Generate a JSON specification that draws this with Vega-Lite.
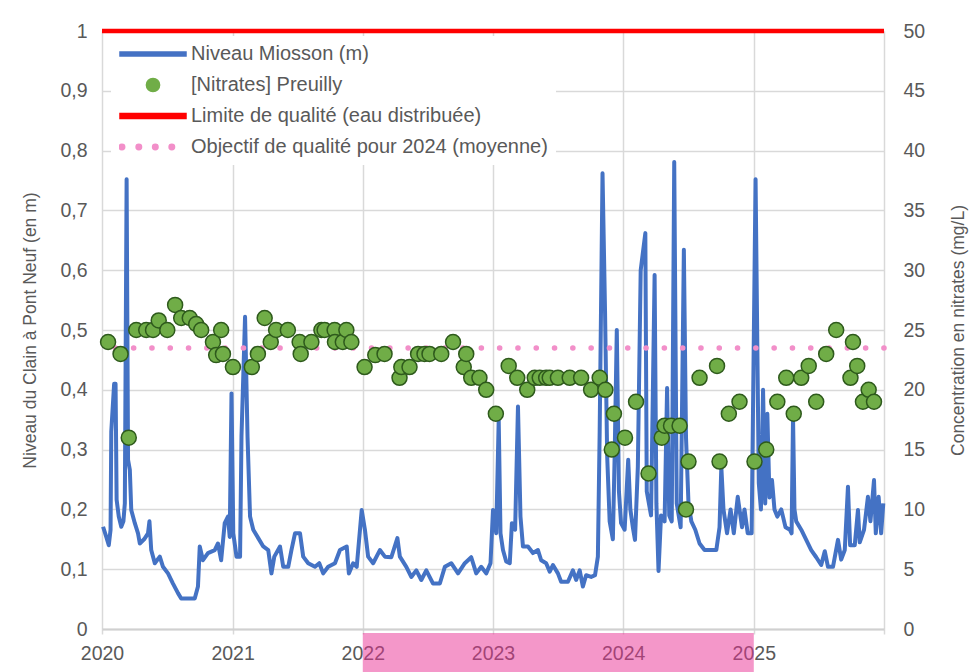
{
  "$schema": "https://vega.github.io/schema/vega-lite/v6.json",
  "width": 782,
  "height": 598,
  "autosize": {"type": "none"},
  "padding": {"left": 102, "top": 31, "right": 90, "bottom": 43},
  "background": "white",
  "config": {
    "view": {"stroke": null},
    "font": "Liberation Sans",
    "axis": {
      "labelColor": "#595959", "titleColor": "#595959",
      "labelFont": "Liberation Sans", "titleFont": "Liberation Sans",
      "labelFontSize": 19.5, "titleFontSize": 17.5, "titleFontWeight": "normal",
      "gridColor": "#D9D9D9", "gridWidth": 1.5, "gridOpacity": 1,
      "domain": false, "ticks": false
    }
  },
  "datasets": {
    "periode": [{"debut": "2022-01-01", "fin": "2025-01-01"}],
    "limite": [{"valeur": 50}],
    "objectif": [{"valeur": 23.5}],
    "niveau": [
      {"date": "2020-01-04", "niveau": 0.171}, {"date": "2020-01-13", "niveau": 0.154}, {"date": "2020-01-20", "niveau": 0.14}, {"date": "2020-01-25", "niveau": 0.166},
      {"date": "2020-01-27", "niveau": 0.33}, {"date": "2020-02-04", "niveau": 0.41}, {"date": "2020-02-08", "niveau": 0.41}, {"date": "2020-02-11", "niveau": 0.216},
      {"date": "2020-02-17", "niveau": 0.188}, {"date": "2020-02-24", "niveau": 0.171}, {"date": "2020-03-01", "niveau": 0.18}, {"date": "2020-03-05", "niveau": 0.21},
      {"date": "2020-03-10", "niveau": 0.752}, {"date": "2020-03-14", "niveau": 0.283}, {"date": "2020-03-19", "niveau": 0.266}, {"date": "2020-03-23", "niveau": 0.199},
      {"date": "2020-04-02", "niveau": 0.177}, {"date": "2020-04-11", "niveau": 0.16}, {"date": "2020-04-16", "niveau": 0.143}, {"date": "2020-04-28", "niveau": 0.15},
      {"date": "2020-05-09", "niveau": 0.16}, {"date": "2020-05-13", "niveau": 0.18}, {"date": "2020-05-18", "niveau": 0.132}, {"date": "2020-05-28", "niveau": 0.11},
      {"date": "2020-06-11", "niveau": 0.121}, {"date": "2020-06-20", "niveau": 0.104}, {"date": "2020-07-04", "niveau": 0.093}, {"date": "2020-07-18", "niveau": 0.076},
      {"date": "2020-08-01", "niveau": 0.06}, {"date": "2020-08-10", "niveau": 0.051}, {"date": "2020-09-17", "niveau": 0.051}, {"date": "2020-09-26", "niveau": 0.071},
      {"date": "2020-10-01", "niveau": 0.138}, {"date": "2020-10-10", "niveau": 0.115}, {"date": "2020-10-24", "niveau": 0.127}, {"date": "2020-11-12", "niveau": 0.132},
      {"date": "2020-11-21", "niveau": 0.143}, {"date": "2020-11-30", "niveau": 0.115}, {"date": "2020-12-10", "niveau": 0.177}, {"date": "2020-12-19", "niveau": 0.188},
      {"date": "2020-12-24", "niveau": 0.154}, {"date": "2020-12-29", "niveau": 0.394}, {"date": "2021-01-03", "niveau": 0.16}, {"date": "2021-01-12", "niveau": 0.121},
      {"date": "2021-01-22", "niveau": 0.121}, {"date": "2021-01-26", "niveau": 0.322}, {"date": "2021-02-05", "niveau": 0.522}, {"date": "2021-02-12", "niveau": 0.32},
      {"date": "2021-02-19", "niveau": 0.188}, {"date": "2021-02-28", "niveau": 0.166}, {"date": "2021-03-14", "niveau": 0.152}, {"date": "2021-03-28", "niveau": 0.138},
      {"date": "2021-04-11", "niveau": 0.132}, {"date": "2021-04-20", "niveau": 0.093}, {"date": "2021-04-28", "niveau": 0.121}, {"date": "2021-05-14", "niveau": 0.138},
      {"date": "2021-05-23", "niveau": 0.104}, {"date": "2021-06-06", "niveau": 0.104}, {"date": "2021-06-15", "niveau": 0.132}, {"date": "2021-06-25", "niveau": 0.16},
      {"date": "2021-07-09", "niveau": 0.16}, {"date": "2021-07-18", "niveau": 0.121}, {"date": "2021-08-01", "niveau": 0.11}, {"date": "2021-08-20", "niveau": 0.104},
      {"date": "2021-09-01", "niveau": 0.11}, {"date": "2021-09-12", "niveau": 0.093}, {"date": "2021-09-26", "niveau": 0.104}, {"date": "2021-10-15", "niveau": 0.11},
      {"date": "2021-10-29", "niveau": 0.132}, {"date": "2021-11-17", "niveau": 0.138}, {"date": "2021-11-23", "niveau": 0.093}, {"date": "2021-12-05", "niveau": 0.11},
      {"date": "2021-12-15", "niveau": 0.104}, {"date": "2021-12-29", "niveau": 0.199}, {"date": "2022-01-07", "niveau": 0.166}, {"date": "2022-01-16", "niveau": 0.121},
      {"date": "2022-01-30", "niveau": 0.11}, {"date": "2022-02-18", "niveau": 0.132}, {"date": "2022-03-04", "niveau": 0.121}, {"date": "2022-03-22", "niveau": 0.12},
      {"date": "2022-04-08", "niveau": 0.152}, {"date": "2022-04-15", "niveau": 0.121}, {"date": "2022-05-03", "niveau": 0.104}, {"date": "2022-05-17", "niveau": 0.087},
      {"date": "2022-05-31", "niveau": 0.098}, {"date": "2022-06-14", "niveau": 0.082}, {"date": "2022-06-28", "niveau": 0.098}, {"date": "2022-07-17", "niveau": 0.076},
      {"date": "2022-08-05", "niveau": 0.076}, {"date": "2022-08-19", "niveau": 0.104}, {"date": "2022-09-06", "niveau": 0.11}, {"date": "2022-09-25", "niveau": 0.093},
      {"date": "2022-10-14", "niveau": 0.11}, {"date": "2022-11-01", "niveau": 0.12}, {"date": "2022-11-15", "niveau": 0.093}, {"date": "2022-11-29", "niveau": 0.104},
      {"date": "2022-12-13", "niveau": 0.093}, {"date": "2022-12-25", "niveau": 0.11}, {"date": "2023-01-01", "niveau": 0.199}, {"date": "2023-01-10", "niveau": 0.16},
      {"date": "2023-01-17", "niveau": 0.35}, {"date": "2023-01-22", "niveau": 0.16}, {"date": "2023-01-29", "niveau": 0.132}, {"date": "2023-02-07", "niveau": 0.113},
      {"date": "2023-02-17", "niveau": 0.11}, {"date": "2023-02-23", "niveau": 0.177}, {"date": "2023-03-04", "niveau": 0.166}, {"date": "2023-03-12", "niveau": 0.372},
      {"date": "2023-03-19", "niveau": 0.188}, {"date": "2023-03-26", "niveau": 0.138}, {"date": "2023-04-09", "niveau": 0.138}, {"date": "2023-04-23", "niveau": 0.127},
      {"date": "2023-05-07", "niveau": 0.132}, {"date": "2023-05-16", "niveau": 0.115}, {"date": "2023-05-30", "niveau": 0.11}, {"date": "2023-06-09", "niveau": 0.096},
      {"date": "2023-06-18", "niveau": 0.107}, {"date": "2023-07-02", "niveau": 0.093}, {"date": "2023-07-11", "niveau": 0.079}, {"date": "2023-07-30", "niveau": 0.079},
      {"date": "2023-08-13", "niveau": 0.098}, {"date": "2023-08-22", "niveau": 0.082}, {"date": "2023-09-01", "niveau": 0.098}, {"date": "2023-09-10", "niveau": 0.071},
      {"date": "2023-09-19", "niveau": 0.09}, {"date": "2023-10-03", "niveau": 0.087}, {"date": "2023-10-14", "niveau": 0.09}, {"date": "2023-10-22", "niveau": 0.121},
      {"date": "2023-10-27", "niveau": 0.33}, {"date": "2023-11-04", "niveau": 0.762}, {"date": "2023-11-11", "niveau": 0.533}, {"date": "2023-11-17", "niveau": 0.29},
      {"date": "2023-11-24", "niveau": 0.18}, {"date": "2023-12-03", "niveau": 0.15}, {"date": "2023-12-08", "niveau": 0.29}, {"date": "2023-12-14", "niveau": 0.5},
      {"date": "2023-12-20", "niveau": 0.23}, {"date": "2023-12-26", "niveau": 0.177}, {"date": "2024-01-05", "niveau": 0.166}, {"date": "2024-01-15", "niveau": 0.283},
      {"date": "2024-01-21", "niveau": 0.2}, {"date": "2024-01-28", "niveau": 0.17}, {"date": "2024-02-03", "niveau": 0.149}, {"date": "2024-02-11", "niveau": 0.271},
      {"date": "2024-02-19", "niveau": 0.6}, {"date": "2024-03-03", "niveau": 0.662}, {"date": "2024-03-07", "niveau": 0.23}, {"date": "2024-03-19", "niveau": 0.19},
      {"date": "2024-03-29", "niveau": 0.592}, {"date": "2024-04-03", "niveau": 0.21}, {"date": "2024-04-09", "niveau": 0.097}, {"date": "2024-04-16", "niveau": 0.19},
      {"date": "2024-04-26", "niveau": 0.18}, {"date": "2024-05-03", "niveau": 0.403}, {"date": "2024-05-09", "niveau": 0.19}, {"date": "2024-05-16", "niveau": 0.18},
      {"date": "2024-05-23", "niveau": 0.781}, {"date": "2024-05-30", "niveau": 0.21}, {"date": "2024-06-10", "niveau": 0.17}, {"date": "2024-06-19", "niveau": 0.634},
      {"date": "2024-06-25", "niveau": 0.32}, {"date": "2024-07-02", "niveau": 0.21}, {"date": "2024-07-10", "niveau": 0.18}, {"date": "2024-07-21", "niveau": 0.166},
      {"date": "2024-08-02", "niveau": 0.143}, {"date": "2024-08-16", "niveau": 0.132}, {"date": "2024-09-18", "niveau": 0.132}, {"date": "2024-09-27", "niveau": 0.17},
      {"date": "2024-10-02", "niveau": 0.271}, {"date": "2024-10-08", "niveau": 0.2}, {"date": "2024-10-18", "niveau": 0.16}, {"date": "2024-10-28", "niveau": 0.2},
      {"date": "2024-11-06", "niveau": 0.16}, {"date": "2024-11-17", "niveau": 0.221}, {"date": "2024-11-29", "niveau": 0.17}, {"date": "2024-12-06", "niveau": 0.2},
      {"date": "2024-12-15", "niveau": 0.16}, {"date": "2024-12-26", "niveau": 0.16}, {"date": "2025-01-06", "niveau": 0.752}, {"date": "2025-01-15", "niveau": 0.244},
      {"date": "2025-01-21", "niveau": 0.2}, {"date": "2025-01-27", "niveau": 0.4}, {"date": "2025-02-02", "niveau": 0.21}, {"date": "2025-02-08", "niveau": 0.36},
      {"date": "2025-02-14", "niveau": 0.22}, {"date": "2025-02-21", "niveau": 0.249}, {"date": "2025-02-28", "niveau": 0.2}, {"date": "2025-03-08", "niveau": 0.188},
      {"date": "2025-03-19", "niveau": 0.2}, {"date": "2025-03-31", "niveau": 0.17}, {"date": "2025-04-12", "niveau": 0.166}, {"date": "2025-04-17", "niveau": 0.16},
      {"date": "2025-04-21", "niveau": 0.355}, {"date": "2025-04-25", "niveau": 0.2}, {"date": "2025-04-30", "niveau": 0.18}, {"date": "2025-05-14", "niveau": 0.166},
      {"date": "2025-05-28", "niveau": 0.149}, {"date": "2025-06-11", "niveau": 0.132}, {"date": "2025-06-25", "niveau": 0.12}, {"date": "2025-07-09", "niveau": 0.107},
      {"date": "2025-07-19", "niveau": 0.13}, {"date": "2025-07-28", "niveau": 0.104}, {"date": "2025-08-11", "niveau": 0.104}, {"date": "2025-08-25", "niveau": 0.149},
      {"date": "2025-09-03", "niveau": 0.116}, {"date": "2025-09-13", "niveau": 0.132}, {"date": "2025-09-22", "niveau": 0.238}, {"date": "2025-09-28", "niveau": 0.14},
      {"date": "2025-10-11", "niveau": 0.14}, {"date": "2025-10-20", "niveau": 0.199}, {"date": "2025-10-25", "niveau": 0.145}, {"date": "2025-11-06", "niveau": 0.166},
      {"date": "2025-11-17", "niveau": 0.221}, {"date": "2025-11-24", "niveau": 0.18}, {"date": "2025-12-04", "niveau": 0.249}, {"date": "2025-12-09", "niveau": 0.16},
      {"date": "2025-12-17", "niveau": 0.221}, {"date": "2025-12-24", "niveau": 0.16}, {"date": "2025-12-30", "niveau": 0.21}
    ],
    "nitrates": [
      {"date": "2020-01-18", "nitrates": 24}, {"date": "2020-02-22", "nitrates": 23}, {"date": "2020-03-16", "nitrates": 16}, {"date": "2020-04-06", "nitrates": 25},
      {"date": "2020-05-04", "nitrates": 25}, {"date": "2020-05-23", "nitrates": 25}, {"date": "2020-06-08", "nitrates": 25.8}, {"date": "2020-07-02", "nitrates": 25},
      {"date": "2020-07-24", "nitrates": 27.1}, {"date": "2020-08-10", "nitrates": 26}, {"date": "2020-09-03", "nitrates": 26}, {"date": "2020-09-21", "nitrates": 25.5},
      {"date": "2020-10-05", "nitrates": 25}, {"date": "2020-11-07", "nitrates": 24}, {"date": "2020-11-16", "nitrates": 22.9}, {"date": "2020-11-30", "nitrates": 25},
      {"date": "2020-12-05", "nitrates": 23}, {"date": "2021-01-02", "nitrates": 21.9}, {"date": "2021-02-24", "nitrates": 21.9}, {"date": "2021-03-13", "nitrates": 23},
      {"date": "2021-04-01", "nitrates": 26}, {"date": "2021-04-18", "nitrates": 24}, {"date": "2021-05-03", "nitrates": 25}, {"date": "2021-06-05", "nitrates": 25},
      {"date": "2021-07-08", "nitrates": 24}, {"date": "2021-07-11", "nitrates": 23}, {"date": "2021-08-10", "nitrates": 24}, {"date": "2021-09-07", "nitrates": 25},
      {"date": "2021-09-16", "nitrates": 25}, {"date": "2021-10-14", "nitrates": 25}, {"date": "2021-10-15", "nitrates": 24}, {"date": "2021-11-06", "nitrates": 24},
      {"date": "2021-11-16", "nitrates": 25}, {"date": "2021-11-30", "nitrates": 24}, {"date": "2022-01-06", "nitrates": 21.9}, {"date": "2022-02-05", "nitrates": 22.9},
      {"date": "2022-03-03", "nitrates": 23}, {"date": "2022-04-14", "nitrates": 21}, {"date": "2022-04-19", "nitrates": 21.9}, {"date": "2022-05-12", "nitrates": 21.9},
      {"date": "2022-06-05", "nitrates": 23}, {"date": "2022-06-23", "nitrates": 23}, {"date": "2022-07-07", "nitrates": 23}, {"date": "2022-08-09", "nitrates": 23},
      {"date": "2022-09-11", "nitrates": 24}, {"date": "2022-10-11", "nitrates": 21.9}, {"date": "2022-10-18", "nitrates": 23}, {"date": "2022-11-01", "nitrates": 21},
      {"date": "2022-11-24", "nitrates": 21}, {"date": "2022-12-13", "nitrates": 20}, {"date": "2023-01-09", "nitrates": 18}, {"date": "2023-02-14", "nitrates": 22},
      {"date": "2023-03-10", "nitrates": 21}, {"date": "2023-04-07", "nitrates": 20}, {"date": "2023-04-28", "nitrates": 21}, {"date": "2023-05-12", "nitrates": 21},
      {"date": "2023-05-30", "nitrates": 21}, {"date": "2023-06-09", "nitrates": 21}, {"date": "2023-07-02", "nitrates": 21}, {"date": "2023-08-04", "nitrates": 21},
      {"date": "2023-09-05", "nitrates": 21}, {"date": "2023-10-03", "nitrates": 20}, {"date": "2023-10-27", "nitrates": 21}, {"date": "2023-11-12", "nitrates": 20},
      {"date": "2023-11-30", "nitrates": 15}, {"date": "2023-12-06", "nitrates": 18}, {"date": "2024-01-06", "nitrates": 16}, {"date": "2024-02-06", "nitrates": 19},
      {"date": "2024-03-12", "nitrates": 13}, {"date": "2024-04-18", "nitrates": 16}, {"date": "2024-04-26", "nitrates": 17}, {"date": "2024-05-14", "nitrates": 17},
      {"date": "2024-06-07", "nitrates": 17}, {"date": "2024-06-25", "nitrates": 10}, {"date": "2024-07-02", "nitrates": 14}, {"date": "2024-08-02", "nitrates": 21},
      {"date": "2024-09-20", "nitrates": 22}, {"date": "2024-09-27", "nitrates": 14}, {"date": "2024-10-23", "nitrates": 18}, {"date": "2024-11-22", "nitrates": 19},
      {"date": "2025-01-03", "nitrates": 14}, {"date": "2025-02-05", "nitrates": 15}, {"date": "2025-03-08", "nitrates": 19}, {"date": "2025-04-02", "nitrates": 21},
      {"date": "2025-04-23", "nitrates": 18}, {"date": "2025-05-14", "nitrates": 21}, {"date": "2025-06-04", "nitrates": 22}, {"date": "2025-06-25", "nitrates": 19},
      {"date": "2025-07-23", "nitrates": 23}, {"date": "2025-08-20", "nitrates": 25}, {"date": "2025-09-29", "nitrates": 21}, {"date": "2025-10-06", "nitrates": 24},
      {"date": "2025-10-18", "nitrates": 22}, {"date": "2025-11-03", "nitrates": 19}, {"date": "2025-11-19", "nitrates": 20}, {"date": "2025-12-04", "nitrates": 19}
    ]
  },
  "layer": [
    {
      "layer": [
        {
          "data": {"name": "periode"},
          "mark": {"type": "rect", "fill": "#E92F93", "opacity": 0.5},
          "encoding": {
            "x": {"field": "debut", "type": "temporal", "title": null},
            "x2": {"field": "fin"},
            "y": {"datum": -0.0067, "type": "quantitative", "title": "Niveau du Clain à Pont Neuf (en m)"},
            "y2": {"datum": -0.08}
          }
        },
        {
          "data": {"name": "niveau"},
          "mark": {"type": "line", "strokeWidth": 4, "strokeJoin": "round"},
          "encoding": {
            "x": {
              "field": "date", "type": "temporal", "title": null,
              "scale": {"domain": [{"year": 2020, "month": 1, "date": 1}, {"year": 2026, "month": 1, "date": 1}], "nice": false},
              "axis": {
                "values": [{"year": 2020, "month": 1, "date": 1}, {"year": 2021, "month": 1, "date": 1}, {"year": 2022, "month": 1, "date": 1}, {"year": 2023, "month": 1, "date": 1}, {"year": 2024, "month": 1, "date": 1}, {"year": 2025, "month": 1, "date": 1}, {"year": 2026, "month": 1, "date": 1}],
                "format": "%Y",
                "labelExpr": "year(datum.value) >= 2026 ? '' : datum.label",
                "grid": true, "ticks": true, "tickColor": "#D9D9D9", "tickSize": 5, "tickWidth": 1.5,
                "domain": true, "domainColor": "#D0D0D0", "domainWidth": 2,
                "labelPadding": 10, "labelAngle": 0, "labelFlush": false, "labelOverlap": false
              }
            },
            "y": {
              "field": "niveau", "type": "quantitative", "title": "Niveau du Clain à Pont Neuf (en m)",
              "scale": {"domain": [0, 1], "nice": false, "zero": true},
              "axis": {
                "orient": "left",
                "values": [0, 0.1, 0.2, 0.3, 0.4, 0.5, 0.6, 0.7, 0.8, 0.9, 1],
                "labelExpr": "replace(format(datum.value, '.1~f'), '.', ',')",
                "grid": true, "labelPadding": 15, "titlePadding": 20
              }
            },
            "color": {
              "datum": "Niveau Miosson (m)",
              "scale": {
                "domain": ["Niveau Miosson (m)", "[Nitrates] Preuilly", "Limite de qualité (eau distribuée)", "Objectif de qualité pour 2024 (moyenne)"],
                "range": ["#4472C4", "#70AD47", "#FF0000", "#F28FC9"]
              },
              "legend": {
                "title": null, "orient": "none", "legendX": 9, "legendY": 5, "padding": 8,
                "fillColor": "white", "symbolType": "stroke", "symbolSize": 4356, "symbolStrokeWidth": 1.5,
                "clipHeight": 20, "rowPadding": 11,
                "labelFont": "Liberation Sans", "labelFontSize": 20, "labelColor": "#595959", "labelOffset": 4, "labelLimit": 0,
                "symbolOpacity": 1,
                "encode": {
                  "symbols": {
                    "update": {
                      "shape": {"signal": "datum.value === 'Niveau Miosson (m)' ? 'M-1,-0.06H1V0.06H-1Z' : datum.value === '[Nitrates] Preuilly' ? 'M0.2,0A0.2,0.2,0,1,1,-0.2,0A0.2,0.2,0,1,1,0.2,0Z' : datum.value === 'Limite de qualité (eau distribuée)' ? 'M-1,-0.075H1V0.075H-1Z' : 'M-0.857,0A0.083,0.083,0,1,1,-1.023,0A0.083,0.083,0,1,1,-0.857,0ZM-0.347,0A0.083,0.083,0,1,1,-0.513,0A0.083,0.083,0,1,1,-0.347,0ZM0.153,0A0.083,0.083,0,1,1,-0.013,0A0.083,0.083,0,1,1,0.153,0ZM0.653,0A0.083,0.083,0,1,1,0.487,0A0.083,0.083,0,1,1,0.653,0Z'"},
                      "fill": {"signal": "datum.value === 'Niveau Miosson (m)' ? '#4472C4' : datum.value === '[Nitrates] Preuilly' ? '#70AD47' : datum.value === 'Limite de qualité (eau distribuée)' ? '#FF0000' : '#F28FC9'"},
                      "stroke": {"signal": "datum.value === '[Nitrates] Preuilly' ? '#2E5A1C' : 'transparent'"},
                      "strokeWidth": {"value": 1.5},
                      "fillOpacity": {"value": 1},
                      "strokeOpacity": {"value": 1},
                      "opacity": {"value": 1}
                    }
                  }
                }
              }
            }
          }
        }
      ]
    },
    {
      "layer": [
        {
          "data": {"name": "limite"},
          "mark": {"type": "rule", "strokeWidth": 4.5},
          "encoding": {
            "y": {"field": "valeur", "type": "quantitative", "title": "Concentration en nitrates (mg/L)"},
            "color": {"datum": "Limite de qualité (eau distribuée)"}
          }
        },
        {
          "data": {"name": "objectif"},
          "mark": {"type": "rule", "strokeWidth": 5.5, "strokeDash": [0.1, 18.2], "strokeCap": "round"},
          "encoding": {
            "y": {"field": "valeur", "type": "quantitative", "title": "Concentration en nitrates (mg/L)"},
            "color": {"datum": "Objectif de qualité pour 2024 (moyenne)"}
          }
        },
        {
          "data": {"name": "nitrates"},
          "mark": {"type": "circle", "size": 225, "opacity": 1, "stroke": "#2E5A1C", "strokeWidth": 1.5},
          "encoding": {
            "x": {"field": "date", "type": "temporal", "title": null},
            "y": {
              "field": "nitrates", "type": "quantitative", "title": "Concentration en nitrates (mg/L)",
              "scale": {"domain": [0, 50], "nice": false},
              "axis": {
                "orient": "right",
                "values": [0, 5, 10, 15, 20, 25, 30, 35, 40, 45, 50],
                "grid": false, "labelPadding": 19, "titlePadding": 25,
                "titleAngle": 270, "titleBaseline": "top"
              }
            },
            "color": {"datum": "[Nitrates] Preuilly"}
          }
        }
      ]
    }
  ],
  "resolve": {"scale": {"y": "independent"}}
}
